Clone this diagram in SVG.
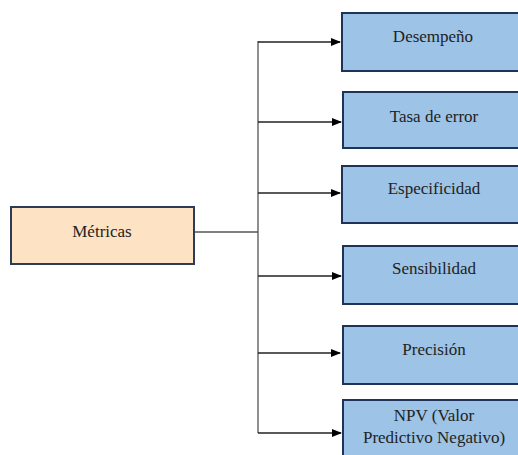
<svg xmlns="http://www.w3.org/2000/svg" width="518" height="455" viewBox="0 0 518 455">
<defs>
<marker id="arr" markerWidth="10" markerHeight="8" refX="9" refY="4" orient="auto" markerUnits="userSpaceOnUse">
<path d="M0,0 L10,4 L0,8 Z" fill="#000"/>
</marker>
<style>
.src{fill:#FDE3C4;stroke:#2E3B58;stroke-width:2}
.box{fill:#9DC3E6;stroke:#1F3358;stroke-width:2}
.t{font-family:'Liberation Serif','DejaVu Serif',serif;font-size:17px;fill:#222;text-anchor:middle}
.ln{fill:none;stroke:#555;stroke-width:1.3}
.ar{fill:none;stroke:#222;stroke-width:1.3;marker-end:url(#arr)}
</style>
</defs>
<rect width="518" height="455" fill="#fff"/>
<g id="connectors">
<path class="ln" d="M194,232 H258 M258,41 V433"/>
<path class="ar" d="M258,42 H340"/>
<path class="ar" d="M258,122 H341"/>
<path class="ar" d="M258,193 H340"/>
<path class="ar" d="M258,276 H341"/>
<path class="ar" d="M258,353 H340"/>
<path class="ar" d="M258,433 H341"/>
</g>
<g id="metricas">
<rect class="src" x="11" y="207" width="183" height="57"/>
<text class="t" x="102" y="237">Métricas</text>
</g>
<g id="desempeno">
<rect class="box" x="342" y="13" width="184" height="58"/>
<text class="t" x="433" y="42">Desempeño</text>
</g>
<g id="tasa">
<rect class="box" x="343" y="92" width="184" height="56"/>
<text class="t" x="434" y="122">Tasa de error</text>
</g>
<g id="especificidad">
<rect class="box" x="342" y="166" width="184" height="57"/>
<text class="t" x="434" y="194">Especificidad</text>
</g>
<g id="sensibilidad">
<rect class="box" x="343" y="246" width="184" height="58"/>
<text class="t" x="434" y="274">Sensibilidad</text>
</g>
<g id="precision">
<rect class="box" x="343" y="326" width="184" height="58"/>
<text class="t" x="434" y="355">Precisión</text>
</g>
<g id="npv">
<rect class="box" x="343" y="400" width="184" height="62"/>
<text class="t" x="434" y="421">NPV (Valor</text>
<text class="t" x="434" y="443">Predictivo Negativo)</text>
</g>
</svg>
